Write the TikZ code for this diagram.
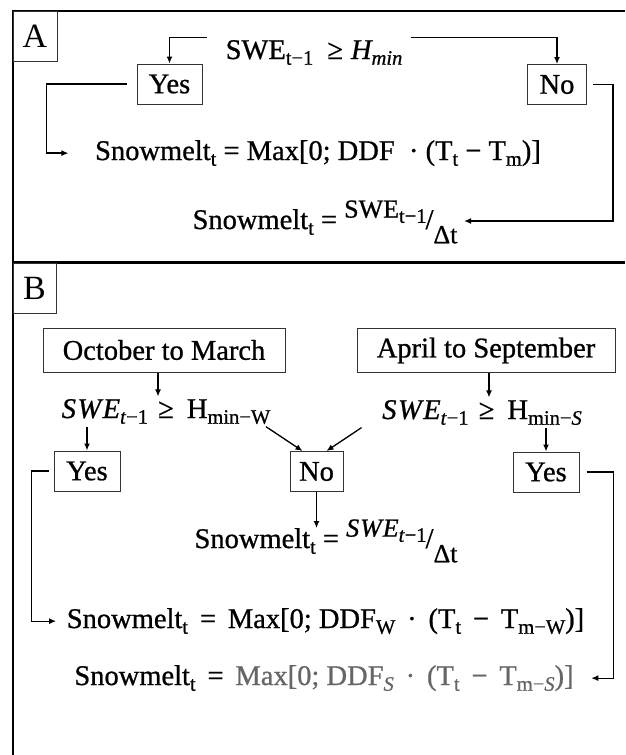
\documentclass[tikz,border=0pt]{standalone}
\usepackage{fontspec}
\setmainfont{Liberation Serif}
\usepackage{tikz}
\usetikzlibrary{arrows.meta}

\newcommand{\subs}[1]{\raisebox{-0.2em}{\fontsize{20.5}{22}\selectfont #1}}
\newcommand{\slashfrac}[2]{\raisebox{0.4em}{\fontsize{26}{28}\selectfont #1}\kern-1pt/\raisebox{-0.5em}{\fontsize{26}{28}\selectfont #2}}

\begin{document}
\begin{tikzpicture}[>={Latex[length=7pt,width=6pt]}, x=1pt, y=-1pt,
	every node/.style={font=\fontsize{28.5}{32}\selectfont\addfontfeatures{FakeBold=0.8}},
	choice/.style={draw=black!80, line width=1pt, minimum width=65pt, minimum height=40pt},
	month/.style={draw=black!80, line width=1pt, minimum height=44pt},
	panel/.style={draw=black!80, line width=1pt, minimum width=44pt, minimum height=50pt, font=\fontsize{34}{36}\selectfont},
	eq/.style={inner sep=2pt, anchor=base},
	every path/.style={line width=1.3pt}]
		\useasboundingbox (0,0) rectangle (625,755);
		\draw[line width=2pt] (625,11) -- (13,11) -- (13,755);
		\draw[line width=3pt] (13,262) -- (625,262);

		\node[panel] (A) at (35,36) {A};
		\node[eq] (condA) at (314,59) {SWE\subs{t−1}\hspace{14pt}≥\hspace{8pt}\textit{H\subs{min}}};
		\node[choice] (yesA) at (169.5,84) {Yes};
		\node[choice, minimum width=59pt] (noA) at (557,84.5) {No};
		\node[eq] (maxA) at (318,160) {Snowmelt\subs{t} = Max[0; DDF~ · (T\subs{t} − T\subs{m})]};
		\node[eq] (fracA) at (325,229) {Snowmelt\subs{t} = \slashfrac{SWE\subs{t−1}}{Δt}};
		\draw[->] ([xshift=-16pt]condA.north west) -| (yesA.north);
		\draw[->] ([xshift=6pt]condA.north east) -| (noA.north);
		\draw[->] ([xshift=-10pt]yesA.west) -- ++(-80,0) |- ([xshift=-24pt]maxA.west);
		\draw[->] ([xshift=6pt]noA.east) -- ++(20,0) |- ([shift={(4pt,8pt)}]fracA.base east);

		\node[panel, minimum width=43pt] (B) at (34.5,288) {B};
		\node[month, minimum width=242pt] (oct) at (164,350) {October to March};
		\node[month, minimum width=258pt] (apr) at (486,350.5) {April to September};
		\node[eq] (condW) at (166,418) {\textit{S\kern1.5pt W\kern1.5pt E}\subs{\textit{t}−1}\hspace{3pt} ≥\hspace{6pt} H\subs{min−W}};
		\node[eq] (condS) at (482,419) {\textit{S\kern1.5pt W\kern1.5pt E}\subs{\textit{t}−1}\hspace{3pt} ≥\hspace{6pt} H\subs{min−\textit{S}}};
		\node[choice, minimum width=66pt] (yesW) at (87,471) {Yes};
		\node[choice, minimum width=53pt] (noB) at (316.5,471.5) {No};
		\node[choice, minimum width=66pt] (yesS) at (546,472) {Yes};
		\node[eq] (fracB) at (326,548) {Snowmelt\subs{t} = \slashfrac{\textit{S\kern1pt W\kern1pt E}\subs{\textit{t}−1}}{Δt}};
		\node[eq] (maxW) at (325.5,628) {Snowmelt\subs{t}\, =\, Max[0; DDF\subs{W}\, ·\, (T\subs{t}\, −\, T\subs{m−W})]};
		\node[eq] (maxS) at (324,685) {Snowmelt\subs{t}\, =\, {\color{black!60}Max[0; DDF\subs{\textit{S}}\, ·\, (T\subs{t}\, −\, T\subs{m−\textit{S}})]}};
		\draw[->] ([xshift=-6pt]oct.south) -- ([xshift=-6pt]oct.south |- condW.north);
		\draw[->] ([xshift=3pt]apr.south) -- ([xshift=3pt]apr.south |- condS.north);
		\draw[->] (yesW.north |- condW.south) -- (yesW.north);
		\draw[->] (yesS.north |- condS.south) -- (yesS.north);
		\draw[->] ([xshift=-7pt]condW.south east) -- ([xshift=-14pt]noB.north);
		\draw[->] ([xshift=-18pt]condS.south west) -- ([xshift=10pt]noB.north);
		\draw[->] (noB.south) -- ([yshift=20pt]noB.south |- fracB.base);
		\draw[->] ([xshift=-5pt]yesW.west) -- ++(-17,0) |- ([xshift=-8pt]maxW.west);
		\draw[->] ([xshift=7pt]yesS.east) -- ++(27,0) |- ([xshift=15pt]maxS.east);
	\end{tikzpicture}
\end{document}
